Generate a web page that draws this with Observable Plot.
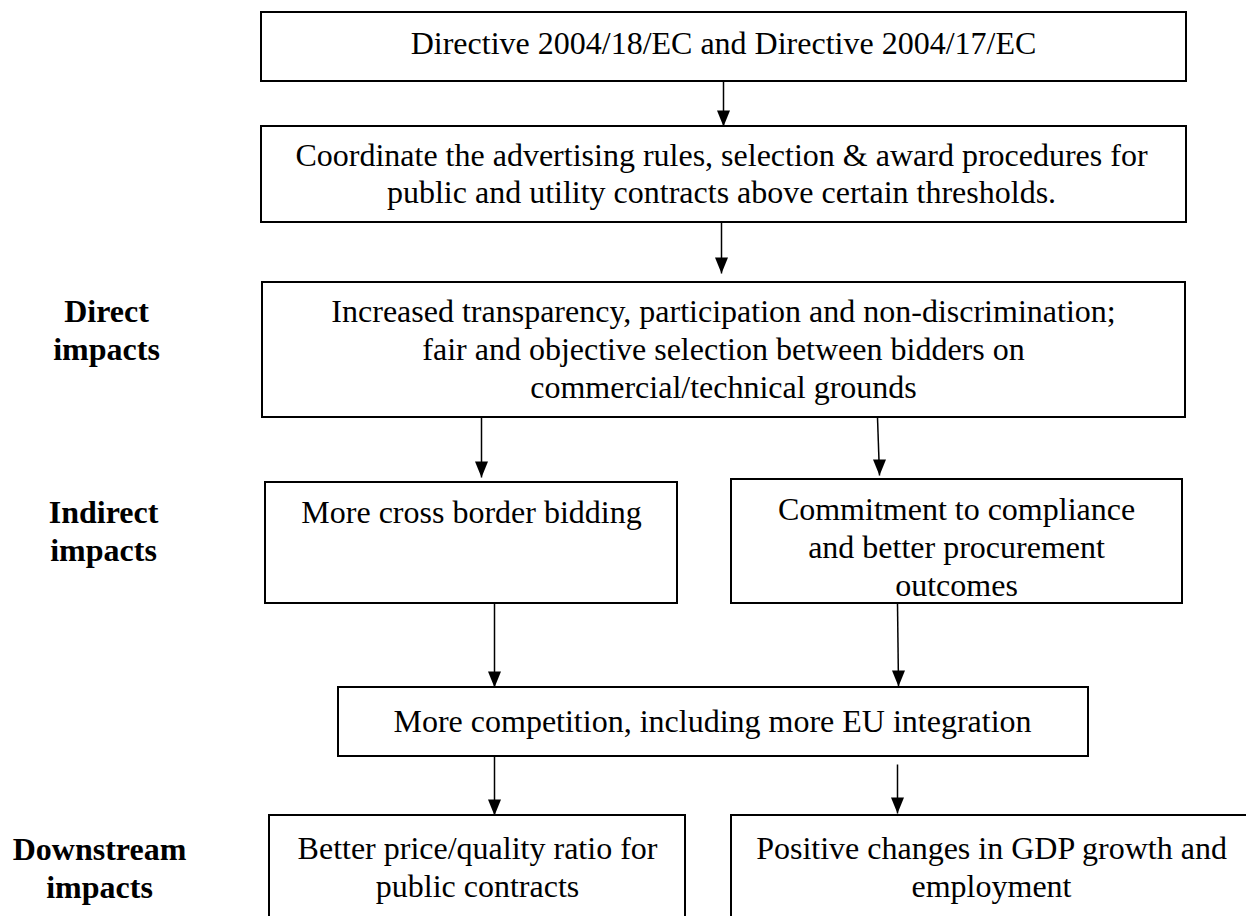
<!DOCTYPE html>
<html>
<head>
<meta charset="utf-8">
<script src="https://cdn.jsdelivr.net/npm/d3@7"></script>
<script src="https://cdn.jsdelivr.net/npm/@observablehq/plot@0.6"></script>
<style>
  html, body { margin: 0; padding: 0; background: #fff; }
  #chart svg { display: block; }
</style>
</head>
<body>
<div id="chart"></div>
<script>
// Flowchart boxes (left, right, top, bottom) in picture units
const boxNames = ["directive", "coordinate", "direct", "crossBorder", "commitment", "competition", "price", "gdp"];
const boxLeft   = [261, 261, 262, 265, 731, 338, 269, 731];
const boxRight  = [1186, 1186, 1185, 677, 1182, 1088, 685, 1252];
const boxTop    = [12, 126, 282, 482, 479, 687, 815, 815];
const boxBottom = [81, 222, 417, 603, 603, 756, 930, 930];

// Text lines inside boxes
const lineText = [
  "Directive 2004/18/EC and Directive 2004/17/EC",
  "Coordinate the advertising rules, selection & award procedures for",
  "public and utility contracts above certain thresholds.",
  "Increased transparency, participation and non-discrimination;",
  "fair and objective selection between bidders on",
  "commercial/technical grounds",
  "More cross border bidding",
  "Commitment to compliance",
  "and better procurement",
  "outcomes",
  "More competition, including more EU integration",
  "Better price/quality ratio for",
  "public contracts",
  "Positive changes in GDP growth and",
  "employment"
];
const lineX = [723, 721, 721, 723, 723, 723, 471, 956, 956, 956, 712, 477, 477, 991, 991];
const lineY = [43, 155, 192, 311, 349, 387, 512, 509, 547, 585, 721, 848, 886, 848, 886];

// Side labels (bold)
const sideText = ["Direct", "impacts", "Indirect", "impacts", "Downstream", "impacts"];
const sideX = [106, 106, 103, 103, 99, 99];
const sideY = [311, 349, 512, 550, 849, 887];

// Arrows (start and end points)
const arrowX1 = [723, 721, 481, 877, 494, 897, 494, 897];
const arrowY1 = [81, 222, 417, 417, 603, 603, 756, 764];
const arrowX2 = [723, 721, 481, 879, 494, 898, 494, 897];
const arrowY2 = [126, 273, 477, 475, 687, 686, 815, 813];

const boxes = boxNames.map((name, i) => ({name, x1: boxLeft[i], x2: boxRight[i], y1: boxTop[i], y2: boxBottom[i]}));
const lines = lineText.map((t, i) => ({t, x: lineX[i], y: lineY[i]}));
const sides = sideText.map((t, i) => ({t, x: sideX[i], y: sideY[i]}));
const arrows = arrowX1.map((x1, i) => ({x1, y1: arrowY1[i], x2: arrowX2[i], y2: arrowY2[i]}));

const W = 1246, H = 916;
const head = {
  draw(context, size) {
    // downward-pointing filled triangle, tip at origin
    context.moveTo(0, 0);
    context.lineTo(-6.5, -16);
    context.lineTo(6.5, -16);
    context.closePath();
  }
};

const font = "'Liberation Serif', 'Times New Roman', serif";

const chart = Plot.plot({
  width: W,
  height: H,
  margin: 0,
  x: {domain: [0, W], range: [0, W], axis: null},
  y: {domain: [0, H], range: [0, H], axis: null},
  style: {fontFamily: font, background: "#fff"},
  marks: [
    Plot.rect(boxes, {x1: "x1", x2: "x2", y1: "y1", y2: "y2", fill: "white", stroke: "black", strokeWidth: 2}),
    Plot.link(arrows, {x1: "x1", y1: "y1", x2: "x2", y2: "y2", stroke: "black", strokeWidth: 1.5}),
    Plot.dot(arrows, {x: "x2", y: "y2", symbol: head, r: 5, fill: "black", stroke: "none"}),
    Plot.text(lines, {x: "x", y: "y", text: "t", fontSize: 32, fill: "black", fontFamily: font, textAnchor: "middle"}),
    Plot.text(sides, {x: "x", y: "y", text: "t", fontSize: 32, fontWeight: "bold", fill: "black", fontFamily: font, textAnchor: "middle"})
  ]
});
document.getElementById("chart").appendChild(chart);
</script>
</body>
</html>
